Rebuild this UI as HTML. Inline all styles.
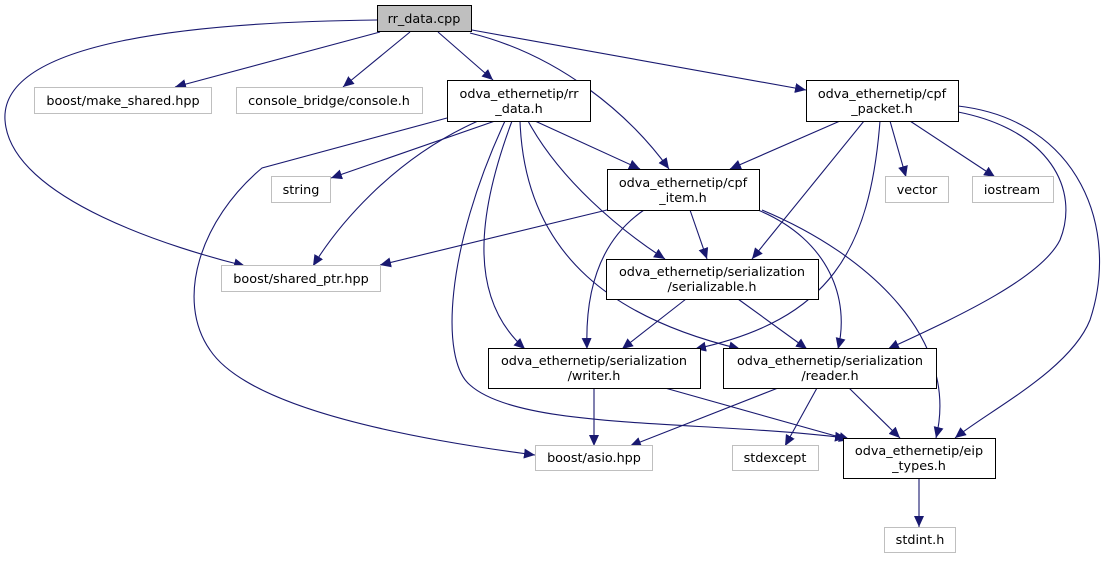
<!DOCTYPE html>
<html><head><meta charset="utf-8"><style>
html,body{margin:0;padding:0;background:#fff;}
svg text{font-family:"DejaVu Sans","Liberation Sans",sans-serif;font-size:12.8px;fill:#000;text-anchor:middle;}
</style></head><body>
<svg width="1110" height="559" viewBox="0 0 1110 559" xmlns="http://www.w3.org/2000/svg">
<defs><marker id="a" markerUnits="userSpaceOnUse" markerWidth="12" markerHeight="10" refX="11" refY="5" orient="auto"><path d="M0,0 L11,5 L0,10 Z" fill="#191970"/></marker></defs>
<g fill="none" stroke="#191970" stroke-width="1.1" marker-end="url(#a)">
<path d="M380,32 L175,87"/>
<path d="M410,32 L343,87"/>
<path d="M438,32 L493,80"/>
<path d="M472,30 L806,90"/>
<path d="M470,33 C560,55 630,115 669,169"/>
<path d="M377,20 C200,22 0,40 5,120 C10,200 180,250 245,266"/>
<path d="M495,121 L331,178"/>
<path d="M478,121 C390,160 335,230 313,266"/>
<path d="M447,118 L262,168 C200,220 175,300 210,350 C250,410 420,440 535,455"/>
<path d="M535,121 L640,169"/>
<path d="M528,121 C560,180 620,230 665,259"/>
<path d="M512,121 C475,220 470,300 525,349"/>
<path d="M520,121 C525,260 620,320 740,349"/>
<path d="M505,121 C445,250 440,360 470,385 C520,430 700,420 846,438"/>
<path d="M840,121 L730,169"/>
<path d="M864,121 L752,259"/>
<path d="M880,121 C870,250 830,320 695,349"/>
<path d="M890,121 L906,177"/>
<path d="M910,121 L995,177"/>
<path d="M958,112 C1050,130 1080,190 1060,240 C1040,280 950,320 888,349"/>
<path d="M958,106 C1080,120 1120,230 1090,320 C1070,370 990,410 955,438"/>
<path d="M607,210 L380,265"/>
<path d="M690,210 L707,259"/>
<path d="M644,210 C600,240 585,290 587,349"/>
<path d="M758,210 C830,240 850,300 838,349"/>
<path d="M762,210 C870,255 960,340 936,438"/>
<path d="M686,299 L622,349"/>
<path d="M738,299 L807,349"/>
<path d="M594,388 L594,446"/>
<path d="M665,388 L850,440"/>
<path d="M778,388 L630,446"/>
<path d="M817,388 L785,446"/>
<path d="M849,388 L900,438"/>
<path d="M919,478 L919,527"/>
</g>
<g stroke-width="1">
<rect x="377.5" y="5.5" width="94" height="26" fill="#bfbfbf" stroke="#000"/>
<rect x="34.5" y="87.5" width="177" height="26" fill="#fff" stroke="#bfbfbf"/>
<rect x="236.5" y="87.5" width="186" height="26" fill="#fff" stroke="#bfbfbf"/>
<rect x="447.5" y="80.5" width="143" height="41" fill="#fff" stroke="#000"/>
<rect x="806.5" y="80.5" width="152" height="41" fill="#fff" stroke="#000"/>
<rect x="271.5" y="176.5" width="59" height="26" fill="#fff" stroke="#bfbfbf"/>
<rect x="607.5" y="169.5" width="152" height="41" fill="#fff" stroke="#000"/>
<rect x="885.5" y="176.5" width="63" height="26" fill="#fff" stroke="#bfbfbf"/>
<rect x="972.5" y="176.5" width="81" height="26" fill="#fff" stroke="#bfbfbf"/>
<rect x="221.5" y="265.5" width="159" height="26" fill="#fff" stroke="#bfbfbf"/>
<rect x="606.5" y="259.5" width="212" height="40" fill="#fff" stroke="#000"/>
<rect x="488.5" y="348.5" width="212" height="40" fill="#fff" stroke="#000"/>
<rect x="723.5" y="348.5" width="213" height="40" fill="#fff" stroke="#000"/>
<rect x="535.5" y="445.5" width="117" height="25" fill="#fff" stroke="#bfbfbf"/>
<rect x="732.5" y="445.5" width="86" height="25" fill="#fff" stroke="#bfbfbf"/>
<rect x="843.5" y="438.5" width="152" height="40" fill="#fff" stroke="#000"/>
<rect x="884.5" y="527.5" width="71" height="25" fill="#fff" stroke="#bfbfbf"/>
</g>
<text x="424" y="23">rr_data.cpp</text>
<text x="123" y="105">boost/make_shared.hpp</text>
<text x="329" y="105">console_bridge/console.h</text>
<text x="519" y="98">odva_ethernetip/rr</text>
<text x="519" y="113">_data.h</text>
<text x="882" y="98">odva_ethernetip/cpf</text>
<text x="882" y="113">_packet.h</text>
<text x="301" y="194">string</text>
<text x="683" y="187">odva_ethernetip/cpf</text>
<text x="683" y="202">_item.h</text>
<text x="917" y="194">vector</text>
<text x="1012" y="194">iostream</text>
<text x="301" y="283">boost/shared_ptr.hpp</text>
<text x="712" y="276">odva_ethernetip/serialization</text>
<text x="712" y="291">/serializable.h</text>
<text x="594" y="365">odva_ethernetip/serialization</text>
<text x="594" y="380">/writer.h</text>
<text x="830" y="365">odva_ethernetip/serialization</text>
<text x="830" y="380">/reader.h</text>
<text x="594" y="462">boost/asio.hpp</text>
<text x="775" y="462">stdexcept</text>
<text x="919" y="455">odva_ethernetip/eip</text>
<text x="919" y="470">_types.h</text>
<text x="920" y="544">stdint.h</text>
</svg>
</body></html>
